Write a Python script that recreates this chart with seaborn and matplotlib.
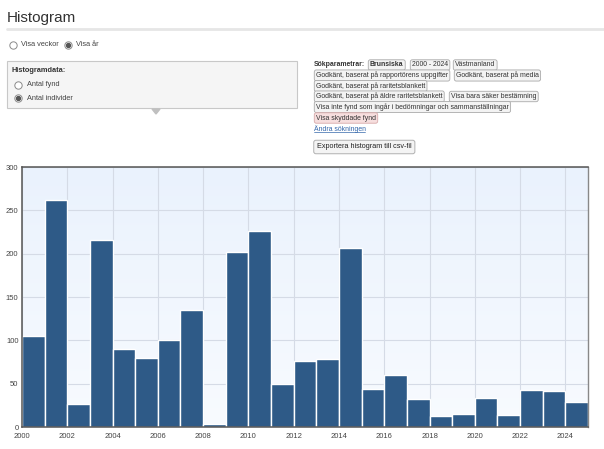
import numpy as np
import matplotlib
matplotlib.use("Agg")
import matplotlib.pyplot as plt
import seaborn as sns
from matplotlib.patches import Rectangle, Polygon

# --- data: antal individer per år ---
years = list(range(2000, 2025))
individer = [105, 262, 26, 216, 90, 80, 100, 135, 3, 202, 226, 50, 76,
             78, 206, 44, 60, 32, 13, 15, 34, 14, 43, 41, 29]
bin_edges = list(range(2000, 2026))
x_ticks = list(range(2000, 2025, 2))
y_ticks = [0, 50, 100, 150, 200, 250, 300]

sns.set_style("white")
plt.rcParams['font.family'] = ['Liberation Sans', 'DejaVu Sans']

fig = plt.figure(figsize=(6.04, 4.49), dpi=100)

# page layer in pixel coordinates
page = fig.add_axes([0, 0, 1, 1])
page.set_xlim(0, 604)
page.set_ylim(449, 0)
page.axis('off')

page.text(7, 18, "Histogram", fontsize=11, color='#333333', va='center')
page.plot([7, 604], [29, 29], color='#e6e6e6', lw=2)


def radio(x, y, checked):
    page.scatter([x], [y], s=28, facecolor='white', edgecolor='#8a8a8a', lw=0.7, zorder=3)
    if checked:
        page.scatter([x], [y], s=8, color='#555555', zorder=4)


radio(13, 45, False)
page.text(21, 45, "Visa veckor", fontsize=5.3, color='#444444', va='center')
radio(68, 45, True)
page.text(76, 45, "Visa år", fontsize=5.3, color='#444444', va='center')

page.add_patch(Rectangle((7, 61), 290, 47, fc='#f5f5f5', ec='#c8c8c8', lw=0.8))
page.add_patch(Polygon([(152, 109), (160, 109), (156, 114)], closed=True, color='#c0c0c0'))
page.text(12, 71, "Histogramdata:", fontsize=5.3, color='#333333', va='center', weight='bold')
radio(18, 85, False)
page.text(27, 85, "Antal fynd", fontsize=5.3, color='#444444', va='center')
radio(18, 98, True)
page.text(27, 98, "Antal individer", fontsize=5.3, color='#444444', va='center')


def tag(x, y, s, bold=False, fc='#f3f3f3', ec='#aaaaaa'):
    page.text(x + 2, y, s, fontsize=4.95, color='#333333', va='center',
              weight='bold' if bold else 'normal',
              bbox=dict(boxstyle='round,pad=0.25,rounding_size=0.3', fc=fc, ec=ec, lw=0.6))


page.text(314, 65, "Sökparametrar:", fontsize=4.95, color='#333333', va='center', weight='bold')
tag(368, 65, "Brunsiska", bold=True)
tag(410, 65, "2000 - 2024")
tag(453, 65, "Västmanland")
tag(314, 75.5, "Godkänt, baserat på rapportörens uppgifter")
tag(454, 75.5, "Godkänt, baserat på media")
tag(314, 86, "Godkänt, baserat på raritetsblankett")
tag(314, 96.5, "Godkänt, baserat på äldre raritetsblankett")
tag(449, 96.5, "Visa bara säker bestämning")
tag(314, 107, "Visa inte fynd som ingår i bedömningar och sammanställningar")
tag(314, 118, "Visa skyddade fynd", fc='#f6dede', ec='#d8aaaa')
page.text(314, 129, "Ändra sökningen", fontsize=4.95, color='#3366aa', va='center')
page.plot([314, 365], [131.5, 131.5], color='#3366aa', lw=0.5)
page.text(317, 147, "Exportera histogram till csv-fil", fontsize=5.2, color='#222222', va='center',
          bbox=dict(boxstyle='round,pad=0.45,rounding_size=0.3', fc='#f4f4f4', ec='#b0b0b0', lw=0.7))

# --- chart ---
ax = fig.add_axes([22 / 604, 22 / 449, 566 / 604, 260 / 449])
grad = np.linspace(0, 1, 256).reshape(-1, 1)
ax.imshow(grad, extent=[2000, 2025, 0, 300], aspect='auto', origin='upper',
          cmap=matplotlib.colors.LinearSegmentedColormap.from_list('bg', ['#eaf2fd', '#f8fbff']),
          zorder=0)
ax.set_axisbelow(True)
ax.grid(True, color='#d5dbe6', lw=0.8, zorder=1)
sns.histplot(x=years, weights=individer, bins=bin_edges, color='#2e5a87', alpha=1,
             edgecolor='white', linewidth=1.0, ax=ax, zorder=2)
ax.set_xlim(2000, 2025)
ax.set_ylim(0, 300)
ax.set_xticks(x_ticks)
ax.set_yticks(y_ticks)
ax.set_xlabel("")
ax.set_ylabel("")
ax.tick_params(labelsize=5.5, colors='#444444', length=0)
ax.tick_params(axis='x', pad=4)
ax.tick_params(axis='y', pad=2.5)
for side in ['left', 'top', 'bottom']:
    ax.spines[side].set_color('#555555')
    ax.spines[side].set_linewidth(1.1)
ax.spines['right'].set_color('#888888')
ax.spines['right'].set_linewidth(1.0)

fig.savefig("out.png", dpi=100)
